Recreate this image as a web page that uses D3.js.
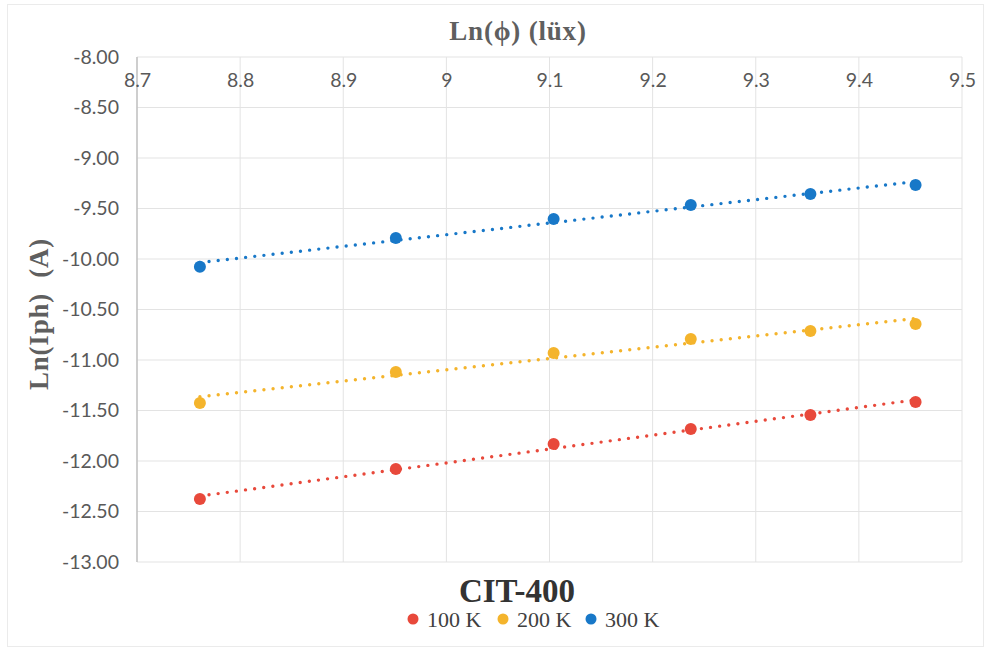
<!DOCTYPE html>
<html>
<head>
<meta charset="utf-8">
<script src="https://cdn.jsdelivr.net/npm/d3@7"></script>
<style>
  html, body { margin: 0; padding: 0; background: #fff; }
  svg { display: block; }
</style>
</head>
<body>
<svg id="chart" width="988" height="650"></svg>
<script>
// Illuminance (natural log, lux) at each measurement step
const lnPhi = [8.761, 8.951, 9.104, 9.237, 9.353, 9.455];

// Natural log of photocurrent (A) at each temperature
const series100K = [-12.376, -12.079, -11.832, -11.683, -11.545, -11.416];
const series200K = [-11.426, -11.119, -10.931, -10.792, -10.713, -10.644];
const series300K = [-10.076, -9.792, -9.604, -9.465, -9.356, -9.267];

const seriesNames = ["100 K", "200 K", "300 K"];
const seriesColors = ["#e8493b", "#f4b42c", "#1878c8"];

const xTicks = [8.7, 8.8, 8.9, 9.0, 9.1, 9.2, 9.3, 9.4, 9.5];
const yTicks = [-8, -8.5, -9, -9.5, -10, -10.5, -11, -11.5, -12, -12.5, -13];

const seriesValues = [series100K, series200K, series300K];

const svg = d3.select("#chart");
const plot = { left: 137, right: 962, top: 57, bottom: 562 };

const x = d3.scaleLinear().domain([8.7, 9.5]).range([plot.left, plot.right]);
const y = d3.scaleLinear().domain([-13, -8]).range([plot.bottom, plot.top]);

// outer chart frame
svg.append("rect")
  .attr("x", 7.5).attr("y", 4.5).attr("width", 976).attr("height", 642)
  .attr("fill", "none").attr("stroke", "#ebebeb").attr("stroke-width", 1);

// gridlines
svg.append("g")
  .selectAll("line.v").data(xTicks).join("line")
  .attr("x1", d => x(d)).attr("x2", d => x(d))
  .attr("y1", plot.top).attr("y2", plot.bottom)
  .attr("stroke", "#e3e3e3").attr("stroke-width", 1);
svg.append("g")
  .selectAll("line.h").data(yTicks).join("line")
  .attr("x1", plot.left).attr("x2", plot.right)
  .attr("y1", d => y(d)).attr("y2", d => y(d))
  .attr("stroke", "#e3e3e3").attr("stroke-width", 1);

// vertical value axis line
svg.append("line")
  .attr("x1", plot.left).attr("x2", plot.left)
  .attr("y1", plot.top).attr("y2", plot.bottom)
  .attr("stroke", "#b8b8b8").attr("stroke-width", 1.2);

// y axis
const yAxis = d3.axisLeft(y).tickValues(yTicks).tickSize(0).tickPadding(18)
  .tickFormat(d => d3.format(".2f")(d).replace("−", "-"));
const gy = svg.append("g").attr("transform", `translate(${plot.left},0)`).call(yAxis);
gy.select(".domain").remove();
gy.selectAll("text")
  .attr("fill", "#595959")
  .style("font-family", "Lato, 'Open Sans', sans-serif")
  .style("font-size", "19.5px");

// x axis labels sit just inside the top of the plot
const xAxis = d3.axisBottom(x).tickValues(xTicks).tickSize(0).tickPadding(0)
  .tickFormat(d => d3.format("")(+d.toFixed(1)));
const gx = svg.append("g").attr("transform", `translate(0,${plot.top + 16})`).call(xAxis);
gx.select(".domain").remove();
gx.selectAll("text")
  .attr("fill", "#595959")
  .style("font-family", "Lato, 'Open Sans', sans-serif")
  .style("font-size", "19.5px");

// least-squares trend line for each series
function fit(xs, ys) {
  const n = xs.length;
  const mx = d3.mean(xs), my = d3.mean(ys);
  let sxy = 0, sxx = 0;
  for (let i = 0; i < n; i++) { sxy += (xs[i] - mx) * (ys[i] - my); sxx += (xs[i] - mx) ** 2; }
  const b = sxy / sxx;
  return { b, a: my - b * mx };
}

const line = d3.line().x(d => x(d[0])).y(d => y(d[1]));

seriesValues.forEach((vals, i) => {
  const f = fit(lnPhi, vals);
  const x0 = d3.min(lnPhi), x1 = d3.max(lnPhi);
  svg.append("path")
    .datum([[x0, f.a + f.b * x0], [x1, f.a + f.b * x1]])
    .attr("d", line)
    .attr("fill", "none")
    .attr("stroke", seriesColors[i])
    .attr("stroke-width", 3.4)
    .attr("stroke-linecap", "round")
    .attr("stroke-dasharray", "0 9.2");
});

seriesValues.forEach((vals, i) => {
  svg.append("g").selectAll("circle")
    .data(vals.map((v, j) => [lnPhi[j], v]))
    .join("circle")
    .attr("cx", d => x(d[0]))
    .attr("cy", d => y(d[1]))
    .attr("r", 6)
    .attr("fill", seriesColors[i]);
});

// titles
svg.append("text")
  .attr("x", 518).attr("y", 40)
  .attr("text-anchor", "middle")
  .attr("fill", "#5f5f5f")
  .style("font-family", "'Liberation Serif', 'DejaVu Serif', serif")
  .style("font-weight", "bold")
  .style("font-size", "27px")
  .style("letter-spacing", "0.8px")
  .text("Ln(ϕ) (lüx)");

svg.append("text")
  .attr("transform", "translate(48,314) rotate(-90)")
  .attr("text-anchor", "middle")
  .attr("fill", "#5f5f5f")
  .style("font-family", "'Liberation Serif', 'DejaVu Serif', serif")
  .style("font-weight", "bold")
  .style("font-size", "27px")
  .style("letter-spacing", "0.8px")
  .style("white-space", "pre")
  .text("Ln(Iph)  (A)");

svg.append("text")
  .attr("x", 517).attr("y", 602)
  .attr("text-anchor", "middle")
  .attr("fill", "#333333")
  .style("font-family", "'Liberation Serif', 'DejaVu Serif', serif")
  .style("font-weight", "bold")
  .style("font-size", "33px")
  .text("CIT-400");

// legend
const legendX = [413, 503, 591];
const lg = svg.append("g");
seriesNames.forEach((name, i) => {
  lg.append("circle")
    .attr("cx", legendX[i]).attr("cy", 619).attr("r", 5.5)
    .attr("fill", seriesColors[i]);
  lg.append("text")
    .attr("x", legendX[i] + 14).attr("y", 627)
    .attr("fill", "#404040")
    .style("font-family", "'Liberation Serif', 'DejaVu Serif', serif")
    .style("font-size", "22px")
    .text(name);
});
</script>
</body>
</html>
